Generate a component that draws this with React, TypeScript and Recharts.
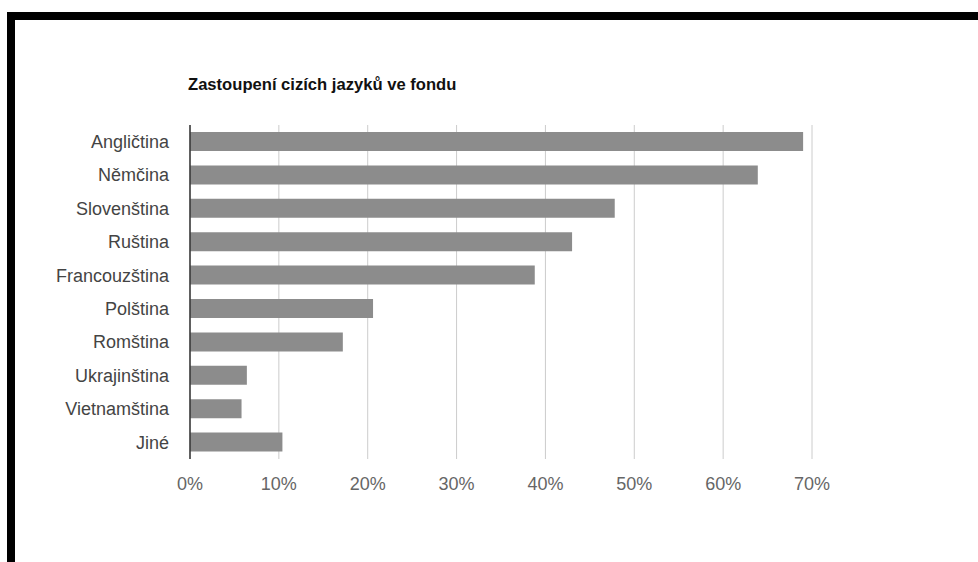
import { Bar, BarChart, CartesianGrid, XAxis, YAxis } from 'recharts'

const LANGUAGES = [
  'Angličtina',
  'Němčina',
  'Slovenština',
  'Ruština',
  'Francouzština',
  'Polština',
  'Romština',
  'Ukrajinština',
  'Vietnamština',
  'Jiné',
]
const SHARES = [69.0, 63.9, 47.8, 43.0, 38.8, 20.6, 17.2, 6.4, 5.8, 10.4]
const X_TICKS = [0, 10, 20, 30, 40, 50, 60, 70]
const TITLE = 'Zastoupení cizích jazyků ve fondu'

const FONT = '"Liberation Sans", Arial, sans-serif'

const data = LANGUAGES.map((name, i) => ({ name, share: SHARES[i] }))

export default function App() {
  return (
    <div
      style={{
        position: 'absolute',
        left: 0,
        top: 0,
        width: 978,
        height: 562,
        background: '#fff',
        overflow: 'hidden',
        fontFamily: FONT,
      }}
    >
      {/* frame, only top and left edges are visible */}
      <div style={{ position: 'absolute', left: 7, top: 12, width: 971, height: 8, background: '#000' }} />
      <div style={{ position: 'absolute', left: 7, top: 12, width: 8, height: 550, background: '#000' }} />

      <div
        style={{
          position: 'absolute',
          left: 188,
          top: 75,
          fontSize: 16.6,
          fontWeight: 700,
          color: '#111',
          whiteSpace: 'nowrap',
        }}
      >
        {TITLE}
      </div>

      <div style={{ position: 'absolute', left: 0, top: 0 }}>
        <BarChart
          width={978}
          height={562}
          data={data}
          layout="vertical"
          margin={{ top: 125, right: 166, bottom: 73, left: 10 }}
          barCategoryGap="21%"
        >
          <CartesianGrid horizontal={false} stroke="#cccccc" strokeWidth={1} />
          <XAxis
            type="number"
            domain={[0, 70]}
            ticks={X_TICKS}
            tickFormatter={(v: number) => `${v}%`}
            axisLine={false}
            tickLine={false}
            tickMargin={12}
            tick={{ fontSize: 18, fill: '#666', fontFamily: FONT }}
            height={30}
          />
          <YAxis
            type="category"
            dataKey="name"
            width={180}
            axisLine={{ stroke: '#333', strokeWidth: 1.5 }}
            tickLine={false}
            tickMargin={15}
            interval={0}
            tick={{ fontSize: 18, fill: '#444', fontFamily: FONT }}
          />
          <Bar dataKey="share" fill="#8c8c8c" isAnimationActive={false} />
        </BarChart>
      </div>
    </div>
  )
}
